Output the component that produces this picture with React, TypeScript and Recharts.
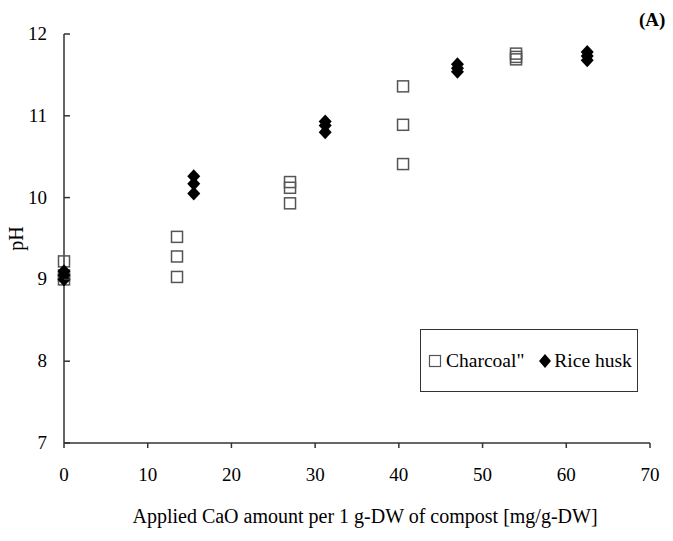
import { Scatter, ScatterChart, XAxis, YAxis, ZAxis } from "recharts"

// Charcoal" treatment: x = applied CaO [mg/g-DW], y = pH
const charcoalX = [0, 0, 0, 13.5, 13.5, 13.5, 27, 27, 27, 40.5, 40.5, 40.5, 54, 54, 54]
const charcoalY = [9.22, 9.05, 9.0, 9.52, 9.28, 9.03, 10.19, 10.12, 9.93, 11.36, 10.89, 10.41, 11.76, 11.72, 11.69]

// Rice husk treatment
const riceX = [0, 0, 0, 15.5, 15.5, 15.5, 31.2, 31.2, 31.2, 47, 47, 47, 62.5, 62.5, 62.5]
const riceY = [9.1, 9.05, 9.0, 10.26, 10.17, 10.05, 10.93, 10.88, 10.8, 11.63, 11.58, 11.54, 11.78, 11.73, 11.68]

const xTicks = [0, 10, 20, 30, 40, 50, 60, 70]
const yTicks = [7, 8, 9, 10, 11, 12]

const charcoal = charcoalX.map((x, i) => ({ x, y: charcoalY[i] }))
const rice = riceX.map((x, i) => ({ x, y: riceY[i] }))

const FONT = "'Liberation Serif', 'Times New Roman', serif"

const Square = (props: any) => {
  const { cx, cy } = props
  return <rect x={cx - 5.5} y={cy - 5.5} width={11} height={11} fill="#fff" fillOpacity={0} stroke="#555" strokeWidth={1.5} />
}

const Diamond = (props: any) => {
  const { cx, cy } = props
  return <path d={`M${cx},${cy - 7} L${cx + 6.5},${cy} L${cx},${cy + 7} L${cx - 6.5},${cy} Z`} fill="#000" />
}

const XTick = (props: any) => {
  const { x, y, payload } = props
  return (
    <g>
      <line x1={x} y1={y - 8} x2={x} y2={y - 3} stroke="#333" strokeWidth={1.5} />
      <text x={x} y={y + 30} textAnchor="middle" fontFamily={FONT} fontSize={19} fill="#000">
        {payload.value}
      </text>
    </g>
  )
}

const YTick = (props: any) => {
  const { x, y, payload } = props
  return (
    <g>
      <line x1={x + 8} y1={y} x2={x + 14} y2={y} stroke="#333" strokeWidth={1.5} />
      <text x={x - 9} y={y + 6} textAnchor="end" fontFamily={FONT} fontSize={19} fill="#000">
        {payload.value}
      </text>
    </g>
  )
}

export default function App() {
  return (
    <div style={{ position: "absolute", left: 0, top: 0, width: 673, height: 541, background: "#fff" }}>
      <ScatterChart width={673} height={541} margin={{ top: 34, right: 23, bottom: 48, left: 24 }}>
        <XAxis
          type="number"
          dataKey="x"
          domain={[0, 70]}
          ticks={xTicks}
          interval={0}
          tick={<XTick />}
          tickLine={false}
          axisLine={{ stroke: "#333", strokeWidth: 1.5 }}
          height={50}
          label={{
            value: "Applied CaO amount per 1 g-DW of compost [mg/g-DW]",
            position: "insideBottom",
            offset: -30,
            dx: 8,
            style: { fontFamily: FONT, fontSize: 20, fill: "#000" },
          }}
        />
        <YAxis
          type="number"
          dataKey="y"
          domain={[7, 12]}
          ticks={yTicks}
          interval={0}
          tick={<YTick />}
          tickLine={false}
          axisLine={{ stroke: "#333", strokeWidth: 1.5 }}
          width={40}
          label={{
            value: "pH",
            angle: -90,
            position: "insideLeft",
            offset: -8,
            style: { fontFamily: FONT, fontSize: 20, fill: "#000", textAnchor: "middle" },
          }}
        />
        <ZAxis range={[100, 100]} />
        <Scatter name='Charcoal"' data={charcoal} shape={<Square />} isAnimationActive={false} />
        <Scatter name="Rice husk" data={rice} shape={<Diamond />} isAnimationActive={false} />
      </ScatterChart>
      <div
        style={{
          position: "absolute",
          left: 420,
          top: 329,
          width: 218,
          height: 63,
          border: "1.5px solid #333",
          display: "flex",
          alignItems: "center",
          fontFamily: FONT,
          fontSize: 19.5,
          color: "#000",
          boxSizing: "border-box",
          paddingLeft: 7,
          whiteSpace: "nowrap",
          background: "#fff",
        }}
      >
        <svg width={14} height={14} style={{ marginRight: 4 }}>
          <rect x={1.5} y={1.5} width={11} height={11} fill="none" stroke="#555" strokeWidth={1.2} />
        </svg>
        <span style={{ marginRight: 14 }}>Charcoal"</span>
        <svg width={14} height={16} style={{ marginRight: 2 }}>
          <path d="M7,1 L13,8 L7,15 L1,8 Z" fill="#000" />
        </svg>
        <span>Rice husk</span>
      </div>
      <div
        style={{
          position: "absolute",
          left: 639,
          top: 9,
          fontFamily: FONT,
          fontSize: 19,
          fontWeight: "bold",
          color: "#000",
        }}
      >
        (A)
      </div>
    </div>
  )
}
